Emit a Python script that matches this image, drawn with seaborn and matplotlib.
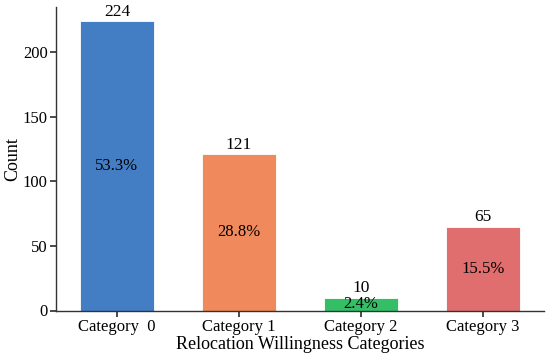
import numpy as np
import pandas as pd
import seaborn as sns
import matplotlib.pyplot as plt

# datos
categorias = ["Category  0", "Category 1", "Category 2", "Category 3"]
conteos = [224, 121, 10, 65]
colores = ["#437EC4", "#F08A5D", "#34BE66", "#E06E6E"]

df = pd.DataFrame({"categoria": categorias, "conteo": conteos})
total = sum(conteos)

sns.set_theme(style="ticks")
plt.rcParams["font.family"] = ["Liberation Serif", "DejaVu Serif"]
plt.rcParams["text.color"] = "black"
plt.rcParams["axes.labelcolor"] = "black"
plt.rcParams["xtick.color"] = "#333333"
plt.rcParams["ytick.color"] = "#333333"
plt.rcParams["xtick.labelcolor"] = "black"
plt.rcParams["ytick.labelcolor"] = "black"

fig = plt.figure(figsize=(5.5, 3.57), dpi=100)
ax = fig.add_axes([56 / 550, 1 - 310.5 / 357, (544 - 56) / 550, (310.5 - 7) / 357])

sns.barplot(data=df, x="categoria", y="conteo", hue="categoria",
            palette=colores, legend=False, width=0.6, ax=ax,
            edgecolor="white", linewidth=0.6, saturation=1)

# etiquetas de conteo arriba y porcentaje en el centro
for i, c in enumerate(conteos):
    ax.text(i, c + 1, f"{c}", ha="center", va="bottom", fontsize=12.5, color="black")
    ax.text(i, c / 2, f"{c / total * 100:.1f}%", ha="center", va="center",
            fontsize=12, color="black")

ax.set_xlim(-0.5, 3.5)
ax.set_ylim(0, 235)
ax.set_yticks([0, 50, 100, 150, 200])
ax.set_xlabel("Relocation Willingness Categories", fontsize=13, labelpad=1)
ax.set_ylabel("Count", fontsize=13, labelpad=1)
ax.tick_params(labelsize=12, length=4, pad=2)
for s in ["left", "bottom"]:
    ax.spines[s].set_color("#333333")
    ax.spines[s].set_linewidth(1)
sns.despine(ax=ax)

fig.savefig("out.png", dpi=100)
